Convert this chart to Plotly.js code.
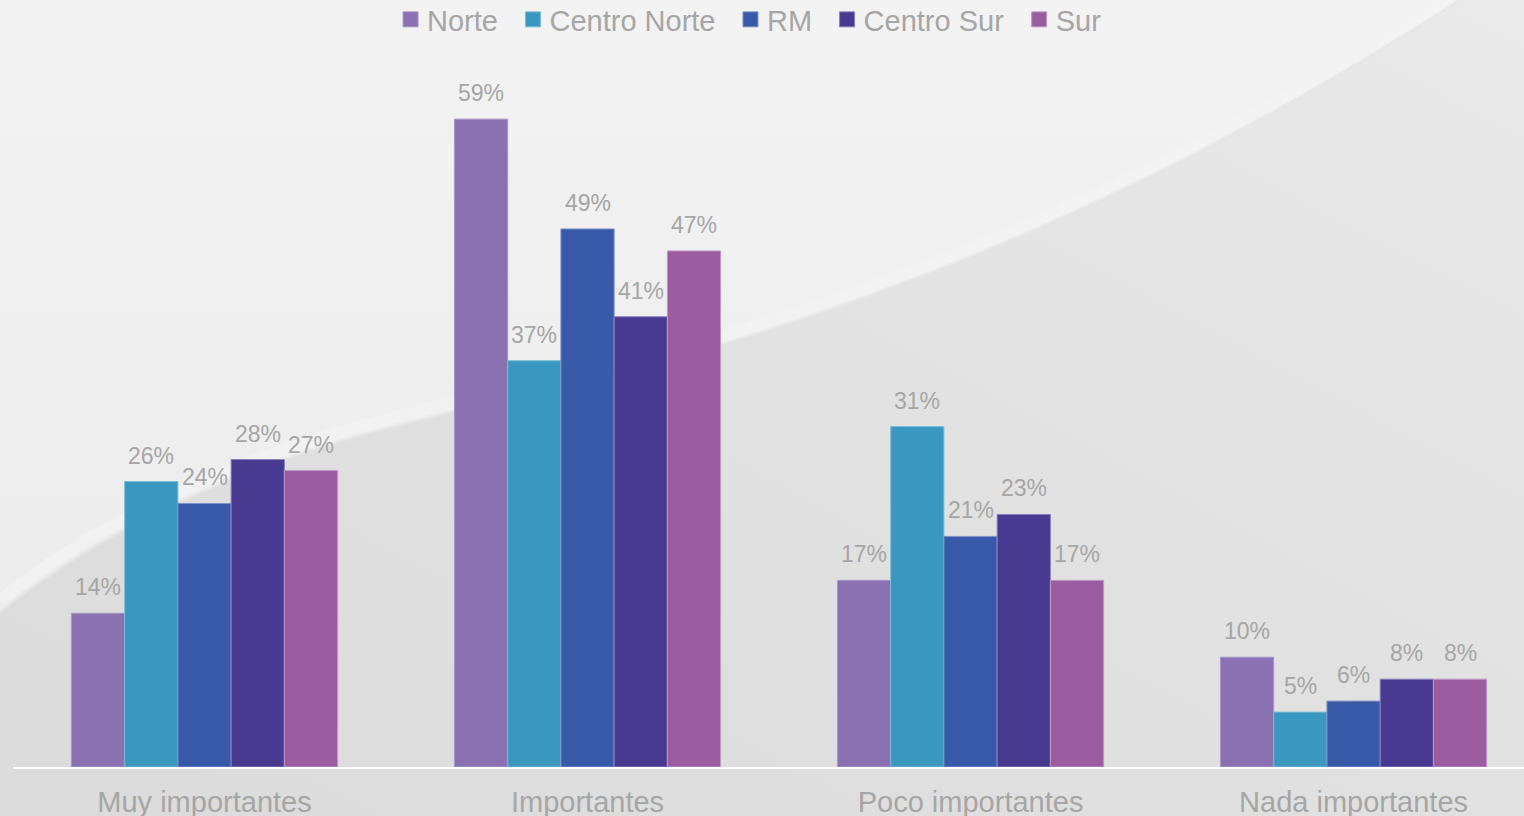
<!DOCTYPE html>
<html>
<head>
<meta charset="utf-8">
<script src="https://cdn.plot.ly/plotly-3.0.1.min.js"></script>
<style>
  html, body { margin: 0; padding: 0; width: 1524px; height: 816px; overflow: hidden; background: #ECECEC; }
  #chart { width: 1524px; height: 816px; }
</style>
</head>
<body>
<div id="chart"></div>
<script>
// ---- data ----
const categories = ["Muy importantes", "Importantes", "Poco importantes", "Nada importantes"];
const seriesNames = ["Norte", "Centro Norte", "RM", "Centro Sur", "Sur"];
const norte       = [14, 59, 17, 10];
const centroNorte = [26, 37, 31, 5];
const rm          = [24, 49, 21, 6];
const centroSur   = [28, 41, 23, 8];
const sur         = [27, 47, 17, 8];
const seriesValues = [norte, centroNorte, rm, centroSur, sur];
const seriesColors = ["#8A72B2", "#3A97BF", "#3759A7", "#473A90", "#9C5DA0"];
const seriesEdges  = ["#A898C8", "#7DBCD8", "#7D93C6", "#8A80BA", "#C09AC2"];

// ---- background (decorative) ----
const curve = "M0,612 C90,540 220,470 400,425 C560,385 640,365 720,345 C900,290 1150,200 1460,0";
const curveHi = "M0,600 C90,529 220,460 400,416 C560,377 640,357 720,337 C900,282 1150,192 1448,0";
const svg = `<svg xmlns='http://www.w3.org/2000/svg' width='1524' height='816'>
<defs>
<linearGradient id='a' x1='0' y1='0' x2='0' y2='1'><stop offset='0' stop-color='#F3F3F3'/><stop offset='1' stop-color='#EAEAEA'/></linearGradient>
<linearGradient id='b' x1='0' y1='1' x2='1' y2='0'><stop offset='0' stop-color='#DBDBDB'/><stop offset='0.5' stop-color='#E1E1E1'/><stop offset='1' stop-color='#EAEAEA'/></linearGradient>
<linearGradient id='c' x1='0' y1='1' x2='1' y2='0'><stop offset='0' stop-color='#F5F5F5' stop-opacity='0.6'/><stop offset='1' stop-color='#F5F5F5' stop-opacity='0.35'/></linearGradient>
</defs>
<rect width='1524' height='816' fill='url(#a)'/>
<path d='${curve} L1524,0 L1524,816 L0,816 Z' fill='url(#b)'/>
<path d='${curveHi}' fill='none' stroke='url(#c)' stroke-width='12'/>
<path d='${curve}' fill='none' stroke='#E4E4E4' stroke-width='3' stroke-opacity='0.6'/>
</svg>`;
document.body.style.backgroundImage = 'url("data:image/svg+xml,' + encodeURIComponent(svg) + '")';

// ---- chart ----
const labelColor = "#A6A6A6";
const font = "Liberation Sans, Arial, sans-serif";
const bargap = 0.305;
const nS = seriesNames.length;
const barW = (1 - bargap) / nS;

const traces = seriesNames.map((name, i) => ({
  type: "bar",
  name: name,
  x: categories,
  y: seriesValues[i],
  marker: { color: seriesColors[i], line: { color: seriesEdges[i], width: 1 } },
  hoverinfo: "skip"
}));

const annotations = [];
seriesValues.forEach((vals, i) => {
  vals.forEach((v, c) => {
    annotations.push({
      x: c + (i - (nS - 1) / 2) * barW,
      y: v,
      xref: "x", yref: "y",
      text: v + "%",
      showarrow: false,
      yanchor: "middle",
      yshift: 26,
      font: { family: font, size: 23, color: labelColor }
    });
  });
});

const layout = {
  width: 1524, height: 816,
  margin: { l: 13, r: 0, t: 0, b: 49 },
  paper_bgcolor: "rgba(0,0,0,0)",
  plot_bgcolor: "rgba(0,0,0,0)",
  barmode: "group",
  bargap: bargap,
  bargroupgap: 0,
  showlegend: true,
  legend: {
    orientation: "h", x: 0.2449, xanchor: "left", y: 1, yanchor: "top",
    font: { family: font, size: 29, color: labelColor },
    bgcolor: "rgba(0,0,0,0)", itemclick: false, itemdoubleclick: false
  },
  xaxis: {
    type: "category",
    range: [-0.5, 3.445],
    showgrid: false, zeroline: false,
    showline: true, linecolor: "#FFFFFF", linewidth: 2,
    ticks: "", ticklabelstandoff: 8,
    tickfont: { family: font, size: 29, color: labelColor },
    fixedrange: true
  },
  yaxis: {
    range: [0, 69.85],
    visible: false, showgrid: false, zeroline: false, fixedrange: true
  },
  annotations: annotations
};

Plotly.newPlot("chart", traces, layout, { displayModeBar: false, staticPlot: true }).then(() => {
  const lg = document.querySelector(".legend");
  if (!lg) return;
  // no clipping of legend contents
  lg.querySelectorAll("[clip-path]").forEach(e => e.removeAttribute("clip-path"));
  // legend swatches: ~15px squares sitting close to their text, as in reference
  lg.querySelectorAll(".legendpoints path").forEach(p => {
    p.setAttribute("d", "M7.5,7.5H-7.5V-7.5H7.5Z");
    p.setAttribute("transform", "translate(23.5,0)");
  });
  // widen spacing between legend entries slightly
  lg.querySelectorAll(".traces").forEach((g, i) => {
    const t = g.getAttribute("transform") || "";
    const m = t.match(/translate\(([-\d.]+)[ ,]+([-\d.]+)\)/);
    if (m) g.setAttribute("transform", `translate(${parseFloat(m[1]) + 4 + i * 6.5},${m[2]})`);
  });
  // nudge legend up slightly
  const t = lg.getAttribute("transform") || "";
  const m = t.match(/translate\(([-\d.]+)[ ,]+([-\d.]+)\)/);
  if (m) lg.setAttribute("transform", `translate(${m[1]},${parseFloat(m[2]) - 6})`);
});
</script>
</body>
</html>
